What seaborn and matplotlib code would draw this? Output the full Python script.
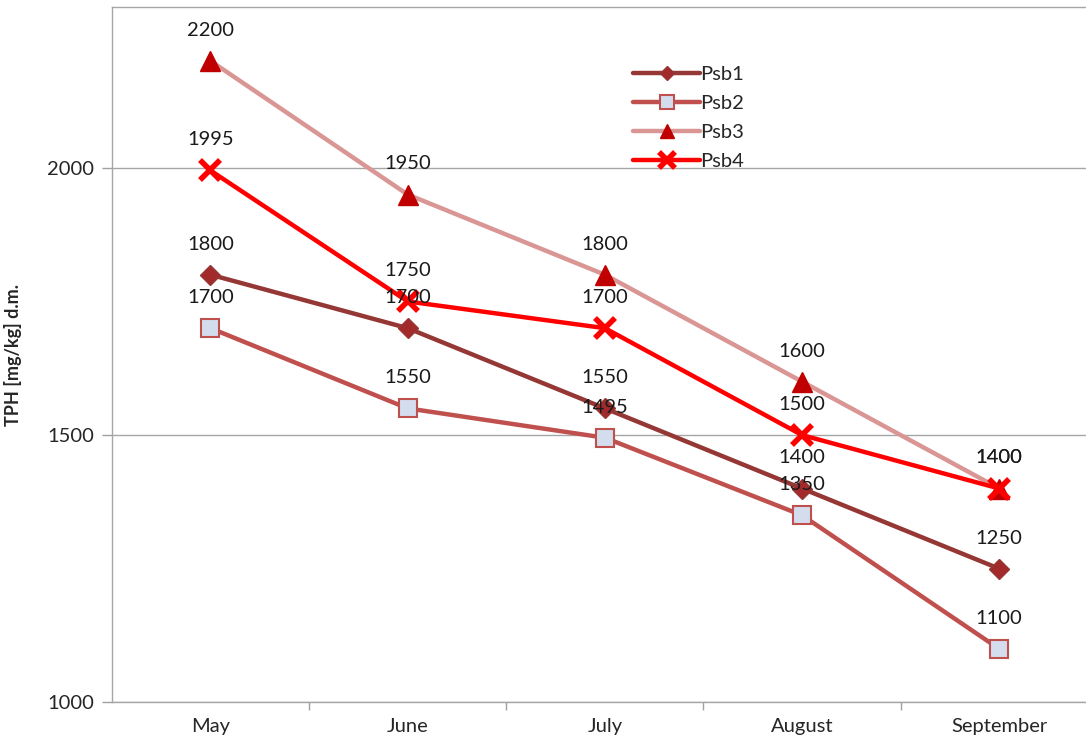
import pandas as pd
import matplotlib.pyplot as plt
import seaborn as sns

# data
months = ["May", "June", "July", "August", "September"]
psb1 = [1800, 1700, 1550, 1400, 1250]
psb2 = [1700, 1550, 1495, 1350, 1100]
psb3 = [2200, 1950, 1800, 1600, 1400]
psb4 = [1995, 1750, 1700, 1500, 1400]

series = {"Psb1": psb1, "Psb2": psb2, "Psb3": psb3, "Psb4": psb4}

# styles per series
styles = {
    "Psb1": dict(color="#953735", marker="D", ms=10, mfc="#A32A2A", mec="#953735", mew=1),
    "Psb2": dict(color="#C0504D", marker="s", ms=13, mfc="#D3DDEE", mec="#C0504D", mew=1.5),
    "Psb3": dict(color="#D99694", marker="^", ms=14, mfc="#C00000", mec="#C00000", mew=1),
    "Psb4": dict(color="#FF0000", marker="x", ms=15, mfc="#FF0000", mec="#FF0000", mew=4),
}

sns.set_theme(style="white")
plt.rcParams['font.family'] = ['Lato', 'DejaVu Sans']

fig, ax = plt.subplots(figsize=(10.86, 7.44), dpi=100)
fig.subplots_adjust(left=0.103, right=1.0, top=0.99, bottom=0.056)

for name, vals in series.items():
    df = pd.DataFrame({"x": range(len(months)), "y": vals})
    st = styles[name]
    sns.lineplot(data=df, x="x", y="y", ax=ax, color=st["color"], lw=3.2,
                 marker=st["marker"], markersize=st["ms"], markerfacecolor=st["mfc"],
                 markeredgecolor=st["mec"], markeredgewidth=st["mew"], label=name, zorder=3)
    for i, v in enumerate(vals):
        ax.annotate(str(v), (i, v), xytext=(0, 22), textcoords="offset points",
                    ha="center", va="center", fontsize=14.5, color="#1a1a1a", zorder=4)

ax.set_ylim(1000, 2300)
ax.set_xlim(-0.5, 4.44)
ax.set_yticks([1000, 1500, 2000])
ax.set_xticks(range(len(months)))
ax.set_xticklabels(months)
ax.set_xticks([0.5, 1.5, 2.5, 3.5], minor=True)
ax.tick_params(axis="x", which="major", length=0, labelsize=14.5, pad=11)
ax.tick_params(axis="x", which="minor", length=6, width=1, color="#A0A0A0", direction="out", bottom=True)
ax.tick_params(axis="y", length=7, width=1, color="#A0A0A0", direction="out", labelsize=14.5, left=True, pad=6)

ax.yaxis.grid(True, color="#A6A6A6", lw=1)
ax.set_axisbelow(True)
for s in ["left", "bottom", "top"]:
    ax.spines[s].set_color("#A6A6A6")
    ax.spines[s].set_linewidth(1)
ax.spines["right"].set_visible(False)

ax.set_xlabel("")
ax.set_ylabel("TPH [mg/kg] d.m.", fontsize=13, fontweight="bold", labelpad=18)

leg = ax.legend(loc="upper left", bbox_to_anchor=(0.527, 0.928), frameon=False,
                fontsize=14.5, handlelength=3.3, handletextpad=0.0, labelspacing=0.6,
                borderaxespad=0)
for h in leg.legend_handles:
    h.set_markersize(h.get_markersize() * 0.75)

fig.savefig("out.png", dpi=100)
